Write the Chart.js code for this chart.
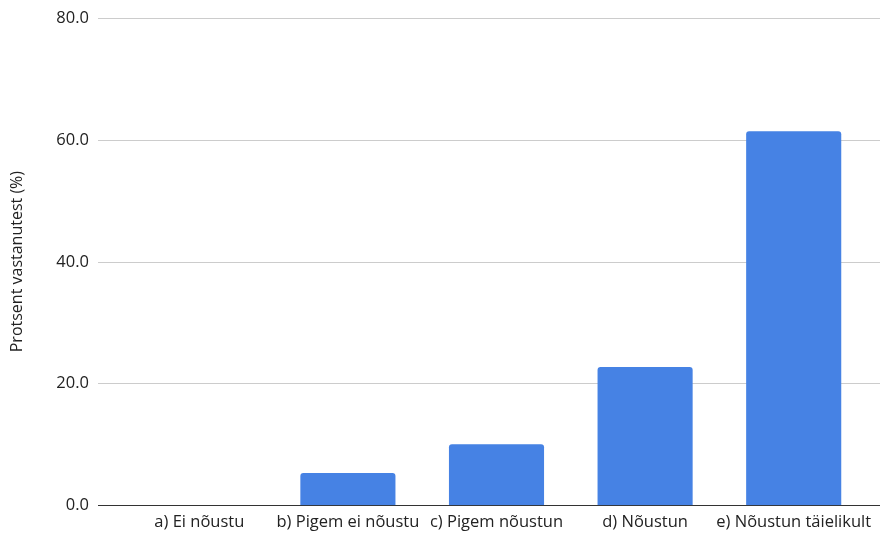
<!DOCTYPE html>
<html lang="et">
<head>
    <meta charset="UTF-8">
    <title>Protsent vastanutest</title>
    <script src="https://cdn.jsdelivr.net/npm/chart.js"></script>
    <style>
        html, body { margin: 0; padding: 0; background: #ffffff; }
        #wrap { width: 881px; height: 536px; }
    </style>
</head>
<body>
    <div id="wrap">
        <canvas id="chart" width="881" height="536"></canvas>
    </div>
    <script>
        // andmed
        const categories = ['a) Ei nõustu', 'b) Pigem ei nõustu', 'c) Pigem nõustun', 'd) Nõustun', 'e) Nõustun täielikult'];
        const percentValues = [0, 5.3, 10.0, 22.7, 61.4];
        const yTicks = [0, 20, 40, 60, 80];

        const FONT = 'Open Sans';

        // jooned üle kogu laiuse + y-telje sildid (vasakul, joonest eemal)
        const wideGrid = {
            id: 'wideGrid',
            beforeDatasetsDraw(chart) {
                const ctx = chart.ctx;
                const y = chart.scales.y;
                ctx.save();
                yTicks.forEach(v => {
                    const py = Math.round(y.getPixelForValue(v)) + 0.5;
                    ctx.beginPath();
                    ctx.strokeStyle = v === 0 ? '#333333' : '#cccccc';
                    ctx.lineWidth = 1;
                    ctx.moveTo(98, py);
                    ctx.lineTo(880, py);
                    ctx.stroke();

                    ctx.fillStyle = '#222222';
                    ctx.font = '16.5px "' + FONT + '"';
                    ctx.textAlign = 'right';
                    ctx.textBaseline = 'middle';
                    ctx.fillText(v.toFixed(1), 89, py);
                });
                ctx.restore();
            }
        };

        const ctx = document.getElementById('chart').getContext('2d');
        new Chart(ctx, {
            type: 'bar',
            data: {
                labels: categories,
                datasets: [{
                    data: percentValues,
                    backgroundColor: '#4682e4',
                    borderRadius: { topLeft: 3, topRight: 3 },
                    borderSkipped: 'bottom',
                    categoryPercentage: 1,
                    barPercentage: 0.64
                }]
            },
            options: {
                responsive: false,
                animation: false,
                layout: {
                    padding: { left: 0, right: 13, top: 18, bottom: -3 }
                },
                plugins: {
                    legend: { display: false },
                    tooltip: { enabled: false }
                },
                scales: {
                    x: {
                        grid: { display: false, drawTicks: false },
                        border: { display: false },
                        ticks: {
                            color: '#222222',
                            font: { family: FONT, size: 16.5 },
                            padding: 7,
                            maxRotation: 0,
                            autoSkip: false
                        }
                    },
                    y: {
                        min: 0,
                        max: 80,
                        grid: { display: false, drawTicks: false },
                        border: { display: false },
                        ticks: { display: false, stepSize: 20 },
                        afterFit(scale) {
                            scale.width = 125;
                        },
                        title: {
                            display: true,
                            text: 'Protsent vastanutest (%)',
                            color: '#222222',
                            font: { family: FONT, size: 16 },
                            padding: { top: 8, bottom: 0 }
                        }
                    }
                }
            },
            plugins: [wideGrid]
        });
    </script>
</body>
</html>
